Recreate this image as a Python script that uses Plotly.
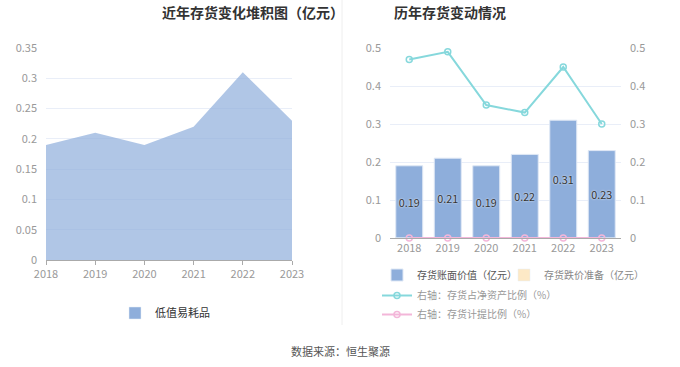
import plotly.graph_objects as go

years = ["2018", "2019", "2020", "2021", "2022", "2023"]
years_num = [2018, 2019, 2020, 2021, 2022, 2023]
low_value = [0.19, 0.21, 0.19, 0.22, 0.31, 0.23]
book_value = [0.19, 0.21, 0.19, 0.22, 0.31, 0.23]
impairment = [0, 0, 0, 0, 0, 0]
ratio_net_assets = [0.47, 0.49, 0.35, 0.33, 0.45, 0.30]
provision_ratio = [0, 0, 0, 0, 0, 0]

W, H = 680, 367
def px(x): return x / W
def py(y): return 1 - y / H

FONT = "Noto Sans CJK SC"
tickfont = dict(family=FONT, size=11, color="#999999")
grid = "#e9eef8"

fig = go.Figure()

fig.add_trace(go.Scatter(
    x=years_num, y=low_value, mode="lines", fill="tozeroy",
    line=dict(width=0, color="rgba(142,174,219,0.7)"),
    fillcolor="rgba(142,174,219,0.7)",
    name="低值易耗品", xaxis="x", yaxis="y", showlegend=False,
    hoverinfo="x+y"))
fig.add_trace(go.Bar(
    x=[None], y=[None], name="低值易耗品", marker=dict(color="#8eaedb"),
    xaxis="x", yaxis="y", legend="legend"))

fig.add_trace(go.Bar(
    x=years, y=book_value, name="存货账面价值（亿元）",
    marker=dict(color="#8eaedb", line=dict(width=1, color="#dfe8f5")),
    width=0.7, text=[f"{v:.2f}" for v in book_value],
    textposition="inside", insidetextanchor="middle", textangle=0,
    textfont=dict(family=FONT, size=12, color="#333333",
                  shadow="0px 0px 2px white"),
    xaxis="x2", yaxis="y2", legend="legend2"))
fig.add_trace(go.Bar(
    x=years, y=impairment, name="存货跌价准备（亿元）",
    marker=dict(color="#fde9c6"), width=0.7,
    xaxis="x2", yaxis="y2", legend="legend4"))
fig.add_trace(go.Scatter(
    x=years, y=ratio_net_assets, mode="lines+markers",
    name="右轴：存货占净资产比例（%）",
    line=dict(color="#86d8dc", width=2),
    marker=dict(symbol="circle-open", size=6, color="#86d8dc", line=dict(width=1.5)),
    xaxis="x2", yaxis="y3", legend="legend3"))
fig.add_trace(go.Scatter(
    x=years, y=provision_ratio, mode="lines+markers",
    name="右轴：存货计提比例（%）",
    line=dict(color="#f3b6d9", width=2),
    marker=dict(symbol="circle-open", size=6, color="#f3b6d9", line=dict(width=1.5)),
    xaxis="x2", yaxis="y3", legend="legend3", cliponaxis=False))

fig.update_layout(
    width=W, height=H, margin=dict(l=0, r=0, t=0, b=0, autoexpand=False),
    paper_bgcolor="white", plot_bgcolor="white",
    showlegend=True, barmode="overlay",
    font=dict(family=FONT, color="#666666"),
    xaxis=dict(domain=[px(46), px(292)], range=[2018, 2023], tickmode="array",
               tickvals=years_num, ticktext=years, tickfont=tickfont,
               showgrid=False, showline=True, linecolor="#aaaaaa",
               ticks="outside", ticklen=4, tickcolor="#aaaaaa", zeroline=False,
               automargin=False),
    yaxis=dict(domain=[py(260), py(48)], range=[0, 0.35], dtick=0.05,
               tickfont=tickfont, gridcolor=grid, zeroline=False,
               showline=False, tickformat="~g", ticklabelstandoff=8,
               automargin=False),
    xaxis2=dict(domain=[px(390), px(621)], anchor="y2", tickfont=tickfont,
                showgrid=False, showline=True, linecolor="#aaaaaa",
                ticks="", type="category", automargin=False),
    yaxis2=dict(domain=[py(238), py(48)], anchor="x2", range=[0, 0.5], dtick=0.1,
                tickfont=tickfont, gridcolor=grid, zeroline=False,
                tickformat="~g", ticklabelstandoff=8, automargin=False),
    yaxis3=dict(overlaying="y2", side="right", anchor="x2", range=[0, 0.5],
                dtick=0.1, tickfont=tickfont, showgrid=False, zeroline=False,
                tickformat="~g", ticklabelstandoff=8, automargin=False),
    legend=dict(x=px(165), y=py(313), xanchor="center", yanchor="middle",
                orientation="h", font=dict(family=FONT, size=11, color="#333333"),
                itemwidth=30, bgcolor="rgba(0,0,0,0)"),
    legend2=dict(x=px(377), y=py(275), xanchor="left", yanchor="middle",
                 orientation="h", font=dict(family=FONT, size=10, color="#555555"),
                 itemwidth=30, bgcolor="rgba(0,0,0,0)"),
    legend4=dict(x=px(504), y=py(275), xanchor="left", yanchor="middle",
                 orientation="h", font=dict(family=FONT, size=10, color="#888888"),
                 itemwidth=30, bgcolor="rgba(0,0,0,0)"),
    legend3=dict(x=px(377), y=py(281), xanchor="left", yanchor="top",
                 orientation="v", font=dict(family=FONT, size=10, color="#999999"),
                 itemwidth=30, tracegroupgap=0, bgcolor="rgba(0,0,0,0)"),
    annotations=[
        dict(text="<b>近年存货变化堆积图（亿元）</b>", x=px(160), y=py(12),
             xref="paper", yref="paper", showarrow=False, yanchor="middle",
             font=dict(family=FONT, size=14, color="#333333")),
        dict(text="<b>历年存货变动情况</b>", x=px(508), y=py(12),
             xref="paper", yref="paper", showarrow=False, yanchor="middle",
             font=dict(family=FONT, size=14, color="#333333")),
        dict(text="数据来源：恒生聚源", x=0.5, y=py(351),
             xref="paper", yref="paper", showarrow=False, yanchor="middle",
             font=dict(family=FONT, size=11, color="#555555")),
    ],
    shapes=[dict(type="line", xref="paper", yref="paper", x0=px(342), x1=px(342),
                 y0=py(325), y1=1, line=dict(color="#eeeeee", width=1))],
)

fig.write_html("out.html", config={"displayModeBar": False},
               post_script="document.body.style.margin='0';")
